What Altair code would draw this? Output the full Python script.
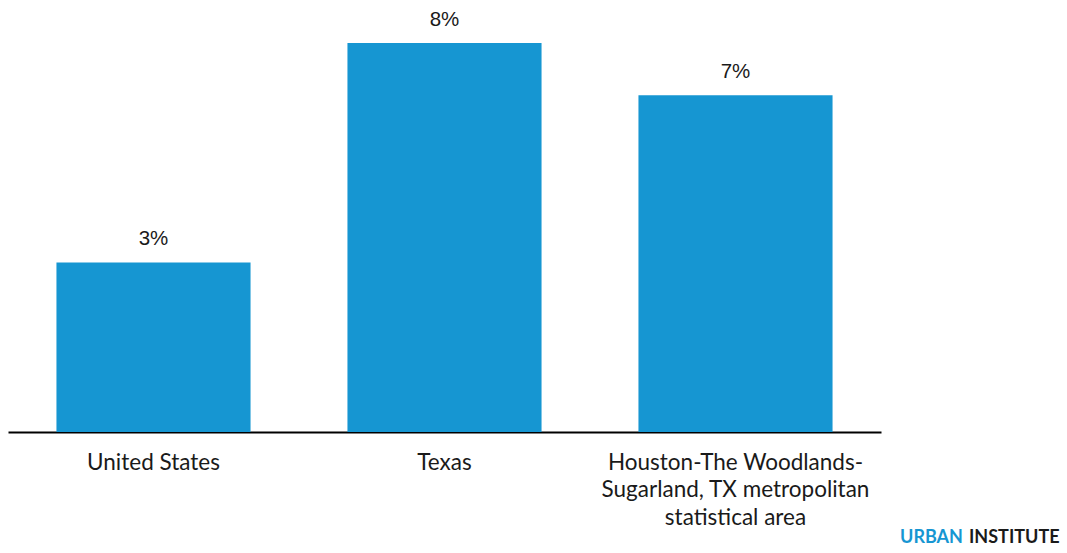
import altair as alt
import pandas as pd

# Share of residents, by geography
areas = ["United States", "Texas", "Houston-The Woodlands-Sugarland, TX metropolitan statistical area"]
shares = [0.034, 0.078, 0.0675]
# Axis label line breaks
area_lines = [
    ["United States"],
    ["Texas"],
    ["Houston-The Woodlands-", "Sugarland, TX metropolitan", "statistical area"],
]

BLUE = "#1696d2"
INK = "#1a1a1a"

df = pd.DataFrame({"area": areas, "share": shares})

# Build a label expression that returns the wrapped lines for each category
label_expr = "datum.value"
for name, lines in reversed(list(zip(areas, area_lines))):
    arr = "[" + ", ".join("'" + l + "'" for l in lines) + "]"
    label_expr = f"datum.value === '{name}' ? {arr} : ({label_expr})"

x_enc = alt.X(
    "area:N",
    sort=areas,
    title=None,
    scale=alt.Scale(paddingInner=0.333, paddingOuter=0.1665),
    axis=alt.Axis(
        labelAngle=0,
        labelFont="Lato",
        labelFontSize=22.5,
        labelColor=INK,
        labelLineHeight=27.5,
        labelPadding=19,
        labelLimit=400,
        labelExpr=label_expr,
        ticks=False,
        domainColor="#000000",
        domainWidth=2,
        grid=False,
    ),
)
y_enc = alt.Y("share:Q", scale=alt.Scale(domain=[0, 0.08], nice=False), axis=None)

base = alt.Chart(df).encode(x=x_enc, y=y_enc)

bars = base.mark_bar(color=BLUE)

values = base.mark_text(
    baseline="bottom",
    dy=-13,
    font="Liberation Sans",
    fontSize=20.5,
    color=INK,
).encode(text=alt.Text("share:Q", format=".0%"))

brand_a = alt.Chart(pd.DataFrame({"t": ["URBAN"]})).mark_text(
    align="right", baseline="middle", font="Lato", fontWeight="bold", fontSize=18, color=BLUE
).encode(text="t:N", x=alt.value(955), y=alt.value(505))

brand_b = alt.Chart(pd.DataFrame({"t": ["INSTITUTE"]})).mark_text(
    align="left", baseline="middle", font="Lato", fontWeight="bold", fontSize=18, color=INK
).encode(text="t:N", x=alt.value(961), y=alt.value(505))

chart = (
    alt.layer(bars, values, brand_a, brand_b)
    .properties(
        width=873,
        height=399,
        autosize=alt.AutoSizeParams(type="none"),
        padding={"left": 8, "top": 33, "right": 186, "bottom": 121},
        background="white",
    )
    .configure_view(stroke=None)
)

chart.save("out.html", embed_options={"renderer": "svg", "actions": False})
